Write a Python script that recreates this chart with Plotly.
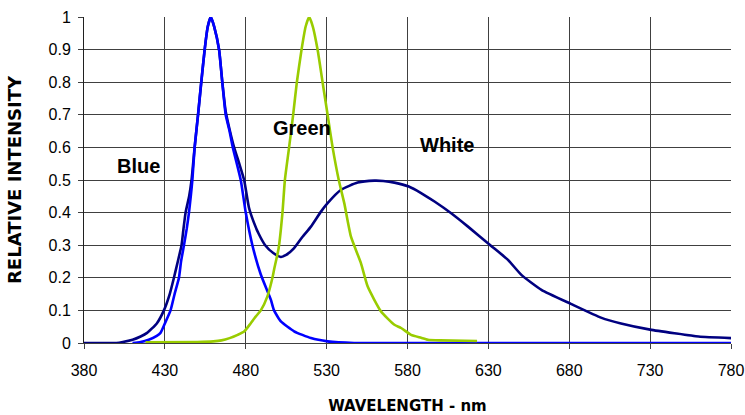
import plotly.graph_objects as go

# White LED spectrum (navy)
white_nm = [380, 400, 404, 410, 415, 419, 425, 429.4, 433, 435.6, 438, 440.3, 441.5, 442.8,
            445, 446.5, 448.4, 450.5, 452.5, 454.6, 456.5, 458.3, 460.5, 463.5, 465.5, 467.6,
            470, 472.8, 476, 479, 482, 485, 488, 492, 497, 501.7, 505, 509.9, 515, 520.3,
            526.5, 530.6, 538.9, 549.2, 559.5, 565, 571.9, 580.8, 588.4, 596.7, 607, 617.4,
            631.2, 642.1, 650.4, 662.8, 681, 700, 712, 730, 745, 760, 780]
white_val = [0, 0, 0.003, 0.01, 0.02, 0.031, 0.06, 0.1, 0.15, 0.2, 0.25, 0.3, 0.35, 0.4,
             0.45, 0.5, 0.6, 0.7, 0.8, 0.9, 0.97, 1.0, 0.97, 0.9, 0.8, 0.71,
             0.655, 0.6, 0.55, 0.5, 0.415, 0.37, 0.335, 0.3, 0.276, 0.264, 0.27, 0.291, 0.325, 0.357,
             0.403, 0.429, 0.47, 0.492, 0.498, 0.497, 0.492, 0.48, 0.46, 0.434, 0.398, 0.357,
             0.3, 0.255, 0.209, 0.163, 0.12, 0.077, 0.06, 0.041, 0.03, 0.02, 0.015]

# Blue LED spectrum
blue_nm = [410, 415, 420, 425, 427.3, 430, 433.5, 436, 438.7, 440, 441.8, 443.5, 444.9,
           446, 447, 448.4, 450.5, 452.5, 454.6, 456.5, 458.5, 460.5, 463.5, 465.5, 467.6,
           470, 472, 476.9, 480, 484.1, 489.3, 495.5, 497.5, 501.7, 509.9, 520.3, 530.6,
           547, 780]
blue_val = [0, 0.003, 0.01, 0.022, 0.031, 0.06, 0.1, 0.15, 0.2, 0.25, 0.3, 0.35, 0.4,
            0.45, 0.5, 0.6, 0.7, 0.8, 0.9, 0.97, 1.0, 0.97, 0.9, 0.8, 0.7,
            0.65, 0.6, 0.5, 0.4, 0.3, 0.21, 0.133, 0.1, 0.066, 0.036, 0.015, 0.005,
            0, 0]

# Green LED spectrum
green_nm = [418, 450, 460, 465, 470, 475, 479, 483, 486, 489.3, 493.4, 496.5, 497.5, 500.3,
            502.7, 504.2, 506.8, 509.3, 511.6, 514.5, 517, 519.2, 521.5, 524.4, 527.5, 530.6,
            533.7, 537.5, 540.9, 545, 551.2, 555.4, 563.6, 571.9, 576, 582.2, 588.4, 592.6,
            600, 623]
green_val = [0.002, 0.003, 0.005, 0.008, 0.015, 0.025, 0.035, 0.06, 0.08, 0.1, 0.143, 0.2, 0.225, 0.29,
             0.4, 0.5, 0.6, 0.7, 0.8, 0.9, 0.97, 1.0, 0.97, 0.9, 0.8, 0.7,
             0.6, 0.5, 0.429, 0.327, 0.245, 0.173, 0.097, 0.056, 0.046, 0.025, 0.016, 0.01,
             0.008, 0.006]

labels = ["Blue", "Green", "White"]
label_x = [413.7, 514.7, 604.5]
label_y = [0.543, 0.66, 0.608]

x_ticks = [380, 430, 480, 530, 580, 630, 680, 730, 780]
y_ticks = [0, 0.1, 0.2, 0.3, 0.4, 0.5, 0.6, 0.7, 0.8, 0.9, 1]
y_tick_text = ["0", "0.1", "0.2", "0.3", "0.4", "0.5", "0.6", "0.7", "0.8", "0.9", "1"]

fig = go.Figure()
fig.add_trace(go.Scatter(x=white_nm, y=white_val, mode="lines",
                         line=dict(color="#000080", width=2.6, shape="spline", smoothing=0.5),
                         name="White"))
fig.add_trace(go.Scatter(x=blue_nm, y=blue_val, mode="lines",
                         line=dict(color="#0000FF", width=2.6, shape="spline", smoothing=0.5),
                         name="Blue"))
fig.add_trace(go.Scatter(x=green_nm, y=green_val, mode="lines",
                         line=dict(color="#99CC00", width=2.6, shape="spline", smoothing=0.5),
                         name="Green"))

for t, x, y in zip(labels, label_x, label_y):
    fig.add_annotation(x=x, y=y, text="<b>%s</b>" % t, showarrow=False,
                       font=dict(family="Liberation Sans, Arial", size=20, color="black"))

fig.update_layout(
    width=745, height=415,
    margin=dict(l=84, r=14, t=17, b=72),
    paper_bgcolor="white", plot_bgcolor="white",
    showlegend=False,
    font=dict(family="Liberation Sans, Arial", size=16, color="black"),
)
fig.update_xaxes(
    range=[380, 780], tickvals=x_ticks, ticktext=[str(v) for v in x_ticks],
    showgrid=True, gridcolor="#404040", gridwidth=1,
    showline=True, linecolor="#404040", linewidth=1,
    ticks="outside", ticklen=5, tickcolor="#404040", ticklabelstandoff=8,
    zeroline=False, automargin=False,
    title=dict(text="<b>WAVELENGTH - nm</b>",
               font=dict(family="DejaVu Sans", size=15), standoff=22),
)
fig.update_yaxes(
    range=[0, 1], tickvals=y_ticks, ticktext=y_tick_text,
    showgrid=True, gridcolor="#404040", gridwidth=1,
    showline=True, linecolor="#202020", linewidth=1,
    ticks="outside", ticklen=5, tickcolor="#404040", ticklabelstandoff=4,
    zeroline=False, automargin=False,
    title=dict(text="<b>RELATIVE INTENSITY</b>",
               font=dict(family="DejaVu Sans", size=18), standoff=22),
)

fig.write_html("out.html")
